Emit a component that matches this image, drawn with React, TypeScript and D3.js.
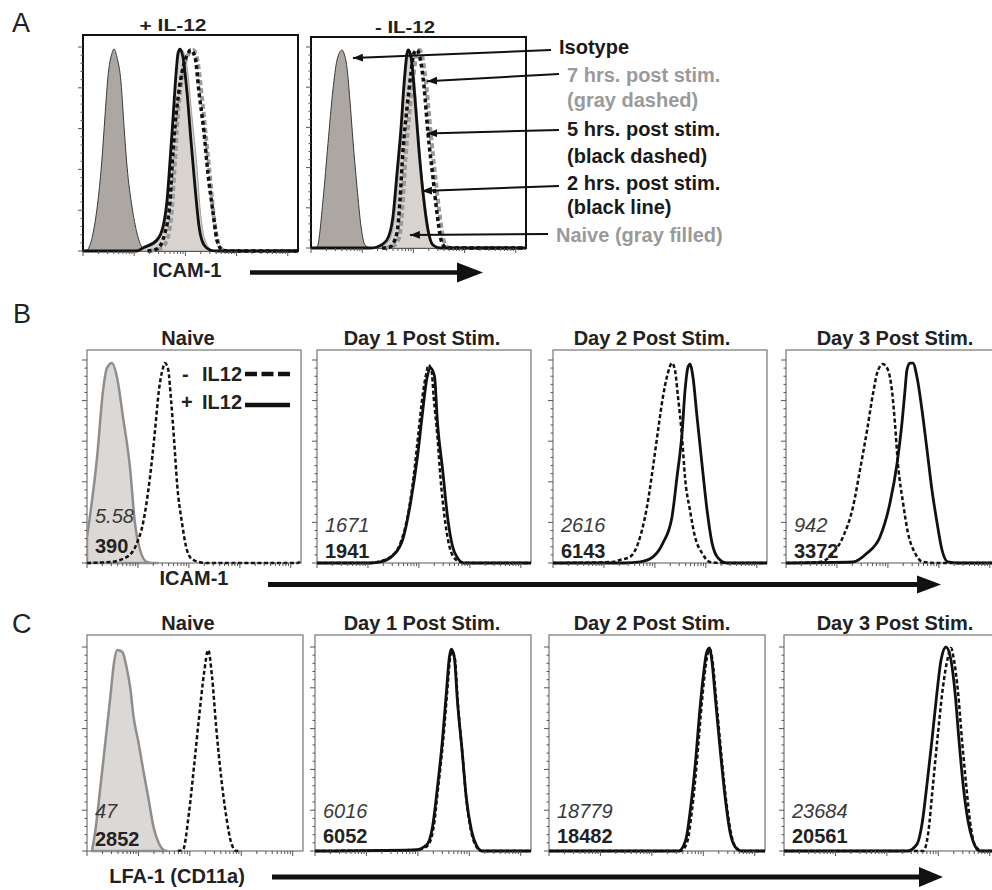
import React from 'react';
import * as d3 from 'd3';

type Pt = [number, number];

const FONT = '"Liberation Sans", Arial, Helvetica, sans-serif';

// ---------- Panel A: ICAM-1, x = % of axis, y = % of max ----------
const aPlusIsotype: Pt[] = [[0,0],[1.9,0.5],[4.7,8.8],[7,25],[8.8,44.6],[10.2,65.7],[11.6,85.3],[13.5,97],[14.4,99],[15.8,95],[17.7,82.4],[19.1,60.8],[20.5,41.2],[22.8,21.6],[25.1,8.8],[27.4,2],[29.8,0.5],[32,0]];
const aPlusNaive: Pt[] = [[24,0],[26.5,1.5],[32.6,2.9],[37.2,10.3],[39.5,25],[41.4,49.5],[42.8,74],[44.2,93.6],[46,98.5],[48.4,90.2],[50.7,65.7],[53,41.2],[54.4,21.6],[56.7,5.4],[60,0.5],[62,0]];
const aPlus2h: Pt[] = [[0,0],[25,0],[27.9,1.5],[34.4,5.4],[37.2,11.8],[39.1,25],[40.5,44.6],[41.9,65.7],[43.3,87.3],[44.2,97],[45.1,99],[46.5,95],[48.4,77.5],[50.2,54.4],[52.1,31.4],[54,11.8],[56.3,2.9],[59.1,0.5],[62,0],[100,0]];
const aPlus5h: Pt[] = [[30,0],[34.4,1],[38.1,8.8],[40.5,25],[41.9,49.5],[43.7,70.6],[46,87.3],[48.4,96],[50.2,98.5],[52.1,95],[54,77.5],[56.3,57.8],[58.1,38.2],[60.5,18.6],[62.3,5.4],[64.7,0.5],[67,0],[100,0]];
const aPlus7h: Pt[] = [[31,0],[35.8,1],[39.1,5.4],[41.4,21.6],[42.8,44.6],[44.2,67.6],[46.5,87.3],[48.8,96],[51.2,98.5],[53,94.6],[55.3,75.5],[57.2,55.9],[59.1,36.3],[60.9,16.7],[62.8,4.4],[65.1,0.5],[67,0],[100,0]];

const aMinusIsotype: Pt[] = [[0,0],[2.8,0.5],[5.6,23.9],[7.9,52],[10.2,78.6],[12.1,93.5],[14.4,98.5],[15.3,97],[16.7,90],[18.1,73.6],[19.5,53.7],[21.4,30.3],[23.3,10.4],[25.1,1.5],[27.4,0]];
const aMinusNaive: Pt[] = [[29,0],[31.5,0.5],[35.8,3],[38.6,13],[40.5,35],[42.3,58],[43.7,80],[45.1,95],[45.8,98],[47.2,94],[49,73],[50.7,48],[52.6,27],[54.9,9],[57.2,1.5],[60,0]];
const aMinus2h: Pt[] = [[0,0],[28,0],[30.7,0.5],[35.3,4],[38.1,15.4],[40,37.3],[41.9,60.2],[43.3,82.1],[44.7,97],[45.3,98.5],[46.5,95],[48.4,73.6],[50.2,48.8],[52.1,27.4],[54.4,9],[56.7,1.5],[60,0],[100,0]];
const aMinus5h: Pt[] = [[33,0],[36.7,0.5],[40,7.5],[41.4,23.9],[42.8,48.8],[44.7,70.1],[46.5,87],[47.9,97],[49.3,98.5],[50.7,94.5],[52.6,80.1],[54.4,57.2],[56.7,35.3],[58.6,17.4],[60.5,4],[62.3,0.5],[64,0],[100,0]];
const aMinus7h: Pt[] = [[34,0],[37.5,0.5],[41,5],[42.5,20],[44,45],[45.9,68],[47.7,86],[49.1,96.5],[50.5,98.5],[52,94],[53.9,78],[55.8,56],[58,34],[59.9,16],[61.8,3.5],[63.5,0.5],[65,0],[100,0]];

const aTitles = ['+ IL-12', '- IL-12'];
const aLegendLines = [
  ['Isotype'],
  ['7 hrs. post stim.', '(gray dashed)'],
  ['5 hrs. post stim.', '(black dashed)'],
  ['2 hrs. post stim.', '(black line)'],
  ['Naive (gray filled)'],
];
const aLegendGray = [false, true, false, false, true];
// arrow targets on the "- IL-12" histogram, in data units
const aLegendTargets: Pt[] = [[19.5, 94.5], [54, 83], [54, 57], [51.6, 28.4], [46, 6.5]];

// ---------- Panel B: ICAM-1 ----------
const bTitles = ['Naive', 'Day 1 Post Stim.', 'Day 2 Post Stim.', 'Day 3 Post Stim.'];
const bItalicLabels = ['5.58', '1671', '2616', '942'];
const bBoldLabels = ['390', '1941', '6143', '3372'];
const bNaiveIsotype: Pt[] = [[0,12.8],[4.7,52],[7.5,85],[9.3,96],[11.7,98.5],[14,91.6],[16.8,72],[20.1,47],[22.4,19.7],[24.8,6.4],[28,0.5],[30.8,0],[33,0]];
const bNaiveMinus: Pt[] = [[0,0],[10.7,0.5],[18.7,3],[23.4,9.9],[26.2,19.7],[29.4,42],[31.8,65.5],[33.6,85],[35.5,96],[36.4,98.5],[37.9,95.5],[39.3,80],[40.7,60.6],[42.1,39],[44.4,19.7],[46.7,6.4],[49.5,1.5],[56,0],[98.5,0],[100,1.5]];
const bDay1Minus: Pt[] = [[0,0],[25,0],[28.2,0.5],[34.3,3],[39,9.9],[42.3,22.7],[45.1,42],[47.4,64],[49.3,82],[51.2,94],[52.1,97.5],[53.5,95],[54.5,82],[56.3,62],[57.7,42],[59.6,22.7],[61.5,9.9],[63.8,3],[67.1,0.5],[71.8,0],[100,0]];
const bDay1Plus: Pt[] = [[0,0],[24.9,0],[29.6,0.5],[35.7,3.9],[40.4,12.8],[43.7,29.6],[46.9,52],[49.3,74],[51.2,90],[53.1,96],[54.9,92],[56.3,69],[58.7,46],[61,22.7],[63.4,7.9],[65.7,2.5],[68.5,0],[100,0]];
const bDay2Minus: Pt[] = [[0,0],[28,0.5],[31.3,1.5],[36,3],[40.7,12.8],[43.9,27.6],[46.7,47],[49.1,65.5],[51.4,82],[53.7,93.6],[55.6,98.5],[57,95],[58.4,82],[60.3,62],[61.7,42],[64,26],[66.4,12.8],[69.6,4.9],[73.4,0.5],[78,0],[100,0]];
const bDay2Plus: Pt[] = [[0,0],[33.6,0],[40.7,0.5],[46.7,3],[51.4,9.9],[55.6,22.7],[57.9,42],[60.3,64],[61.7,85],[63.1,96.6],[64,98],[65.4,91.6],[67.3,72],[69.6,49],[72,26],[74.3,9.9],[77.1,2.5],[81.3,0],[100,0]];
const bDay3Minus: Pt[] = [[0,0],[15.9,0.5],[22,4.9],[26.6,12.8],[31.3,27.6],[34.6,46],[37.9,65.5],[40.7,83.7],[43,95],[45.3,98],[47.7,95],[49.5,85],[50.9,69],[52.3,49],[54.7,29.6],[57,14.8],[60.3,4.9],[64,0.5],[70.6,0],[100,0]];
const bDay3Plus: Pt[] = [[0,0],[31.3,0.5],[37.9,4.9],[43.9,12.8],[48.6,29.6],[51.9,49],[54.2,69],[55.6,85],[56.5,95],[57.9,98.5],[59.3,98.5],[61.2,91.6],[63.6,75],[65.9,55.7],[68.2,36],[70.6,19.7],[72.9,6.4],[75.7,0.5],[79.9,0],[100,0]];

// ---------- Panel C: LFA-1 (CD11a) ----------
const cTitles = ['Naive', 'Day 1 Post Stim.', 'Day 2 Post Stim.', 'Day 3 Post Stim.'];
const cItalicLabels = ['47', '6016', '18779', '23684'];
const cBoldLabels = ['2852', '6052', '18482', '20561'];
const cNaiveIsotype: Pt[] = [[2.3,0],[3.7,8.8],[6.1,30.4],[8.4,52.5],[10.7,74.5],[12.6,93],[14,98.5],[16.4,97.5],[18.2,90.7],[20.1,79.4],[21.5,66.2],[23.8,53.4],[26.2,38.7],[28.5,25.5],[30.8,11.8],[33.2,3.9],[35.5,0.5],[37,0]];
const cNaiveMinus: Pt[] = [[42,0],[44.4,0.5],[47.2,18.6],[49.5,41],[51.9,65.7],[54.2,87.3],[56.1,98.5],[57.9,85.3],[59.8,60.8],[62.1,36.3],[64.5,16.7],[66.8,3.9],[69.2,0],[71,0]];
const cDay1Plus: Pt[] = [[0,0],[46.1,0.5],[51.6,2.9],[54.4,11.8],[56.7,31.4],[59,54.4],[60.8,77.5],[62.2,95],[63.1,99],[64.5,95],[65.9,74],[68.2,48],[70,26.5],[72.4,10.3],[74.7,2.9],[77.4,0],[100,0]];
const cDay1Minus: Pt[] = [[0,0],[47,0.5],[52,2.5],[54.8,11],[57,31],[59.4,55],[61.2,78],[62.6,95],[63.4,98],[64.8,94],[66.1,73],[68.3,47],[70.1,25],[72.3,9.5],[74.5,2.5],[77,0],[100,0]];
const cDay2Plus: Pt[] = [[0,0],[60,0],[63.3,5.4],[65.6,21.6],[67.9,44.6],[69.7,67.6],[71.6,87.3],[72.9,97],[74.3,99.5],[75.2,95],[77.1,74],[79.4,48],[81.7,25],[83.9,8.8],[86.2,2],[89,0],[100,0]];
const cDay2Minus: Pt[] = [[0,0],[61,0],[64,4.5],[66.2,20],[68.4,43],[70.2,66],[72,86],[73.3,96],[74.5,99],[75.6,94],[77.6,72],[79.9,46],[82.2,23],[84.4,8],[86.7,1.5],[89.5,0],[100,0]];
const cDay3Plus: Pt[] = [[0,0],[57,0],[61.6,3.4],[63.9,13.2],[66.2,32.8],[68.5,54.4],[70.8,77.5],[72.7,93.6],[75,100],[77.3,93.6],[79.2,77.5],[81,54.4],[82.9,32.8],[85.2,14.7],[87.5,4.9],[90.7,0],[100,0]];
const cDay3Minus: Pt[] = [[0,0],[64.5,0],[66.7,8.3],[69,32.8],[71.3,57.8],[73.6,80.4],[75.9,95],[77.3,99.5],[78.7,93.6],[80.6,77.5],[82.4,54.4],[84.3,32.8],[86.1,14.7],[88.4,2.9],[91.7,0],[100,0]];

// ---------- styles ----------
type Style = { fill?: string; stroke: string; sw: number; dash?: string };
const S = {
  aIso: { fill: '#aca7a3', stroke: '#3a3a3a', sw: 1 } as Style,
  aNaive: { fill: '#d8d3cf', stroke: '#a0a0a0', sw: 1 } as Style,
  aSolid: { stroke: '#111', sw: 2.8 } as Style,
  aBlackDash: { stroke: '#111', sw: 3.5, dash: '4 3' } as Style,
  aGrayDash: { stroke: '#9a9a9a', sw: 4, dash: '5 3' } as Style,
  iso: { fill: '#dcd8d5', stroke: '#8e8e8e', sw: 2.5 } as Style,
  solid: { stroke: '#111', sw: 2.8 } as Style,
  dash: { stroke: '#111', sw: 2.5, dash: '4 2.5' } as Style,
};

type Layer = { data: Pt[]; style: Style };

let clipCounter = 0;

function Hist(props: {
  left: number; width: number; boxTop: number; y100: number; bottom: number;
  layers: Layer[]; boxStroke: string; boxSW: number;
}) {
  const { left, width, boxTop, y100, bottom, layers, boxStroke, boxSW } = props;
  const x = d3.scaleLinear().domain([0, 100]).range([left, left + width]);
  const y = d3.scaleLinear().domain([0, 100]).range([bottom, y100]);
  const line = d3.line<Pt>().x(d => x(d[0])).y(d => y(d[1])).curve(d3.curveMonotoneX);
  const area = d3.area<Pt>().x(d => x(d[0])).y0(bottom).y1(d => y(d[1])).curve(d3.curveMonotoneX);
  const lg = d3.scaleLog().domain([1, Math.pow(10, 4.2)]).range([left, left + width]);
  const xt: { v: number; major: boolean }[] = [];
  for (let k = 0; k <= 4; k++) for (let m = 1; m <= 9; m++) {
    const v = m * Math.pow(10, k);
    if (v <= Math.pow(10, 4.2)) xt.push({ v, major: m === 1 });
  }
  const yt = d3.range(0, 101, 4);
  const id = React.useMemo(() => `clip${clipCounter++}`, []);
  return (
    <g>
      <defs>
        <clipPath id={id}>
          <rect x={left} y={boxTop} width={width} height={bottom - boxTop + 3} />
        </clipPath>
      </defs>
      <rect x={left} y={boxTop} width={width} height={bottom - boxTop} fill="#fff" stroke={boxStroke} strokeWidth={boxSW} />
      <g clipPath={`url(#${id})`}>
        {layers.map((l, i) =>
          l.style.fill ? (
            <path key={i} d={area(l.data) || ''} fill={l.style.fill} stroke={l.style.stroke} strokeWidth={l.style.sw} strokeLinejoin="round" />
          ) : (
            <path key={i} d={line(l.data) || ''} fill="none" stroke={l.style.stroke} strokeWidth={l.style.sw} strokeDasharray={l.style.dash} strokeLinejoin="round" />
          )
        )}
      </g>
      {yt.map(v => (
        <line key={'y' + v} x1={left - (v % 20 === 0 ? 5 : 2.5)} x2={left} y1={y(v)} y2={y(v)} stroke="#555" strokeWidth={1} />
      ))}
      {xt.map(t => (
        <line key={'x' + t.v} x1={lg(t.v)} x2={lg(t.v)} y1={bottom} y2={bottom + (t.major ? 5 : 3)} stroke="#555" strokeWidth={1} />
      ))}
    </g>
  );
}

function AxisArrow({ x1, x2, y, sw, headLen, headHalf }: { x1: number; x2: number; y: number; sw: number; headLen: number; headHalf: number }) {
  return (
    <g>
      <line x1={x1} x2={x2 - headLen + 2} y1={y} y2={y} stroke="#111" strokeWidth={sw} />
      <path d={`M${x2 - headLen},${y - headHalf} L${x2},${y} L${x2 - headLen},${y + headHalf} Z`} fill="#111" />
    </g>
  );
}

export default function App() {
  // Panel A geometry
  const aPanels = [
    { left: 83, width: 215, boxTop: 35, y100: 47, bottom: 251, title: aTitles[0], tx: 173, ty: 31,
      layers: [
        { data: aPlusIsotype, style: S.aIso }, { data: aPlusNaive, style: S.aNaive },
        { data: aPlus7h, style: S.aGrayDash }, { data: aPlus5h, style: S.aBlackDash }, { data: aPlus2h, style: S.aSolid },
      ] },
    { left: 311, width: 215, boxTop: 37, y100: 47, bottom: 248, title: aTitles[1], tx: 405, ty: 33,
      layers: [
        { data: aMinusIsotype, style: S.aIso }, { data: aMinusNaive, style: S.aNaive },
        { data: aMinus7h, style: S.aGrayDash }, { data: aMinus5h, style: S.aBlackDash }, { data: aMinus2h, style: S.aSolid },
      ] },
  ];
  const ar = aPanels[1];
  const arX = d3.scaleLinear().domain([0, 100]).range([ar.left, ar.left + ar.width]);
  const arY = d3.scaleLinear().domain([0, 100]).range([ar.bottom, ar.y100]);
  const legX = [559, 567, 567, 567, 556];
  const legBase = [54, 82, 136, 190, 242];
  const legTailY = [50, 74, 130, 186, 234];
  const legLineGap = [0, 25, 27, 24, 0];

  const titleCenters = [188, 422, 652, 895];
  const bLefts = [87, 317, 553, 786];
  const cLefts = [87, 315, 549, 784];
  const bLayers: Layer[][] = [
    [{ data: bNaiveIsotype, style: S.iso }, { data: bNaiveMinus, style: S.dash }],
    [{ data: bDay1Plus, style: S.solid }, { data: bDay1Minus, style: S.dash }],
    [{ data: bDay2Plus, style: S.solid }, { data: bDay2Minus, style: S.dash }],
    [{ data: bDay3Plus, style: S.solid }, { data: bDay3Minus, style: S.dash }],
  ];
  const cLayers: Layer[][] = [
    [{ data: cNaiveIsotype, style: S.iso }, { data: cNaiveMinus, style: S.dash }],
    [{ data: cDay1Plus, style: S.solid }, { data: cDay1Minus, style: S.dash }],
    [{ data: cDay2Plus, style: S.solid }, { data: cDay2Minus, style: S.dash }],
    [{ data: cDay3Plus, style: S.solid }, { data: cDay3Minus, style: S.dash }],
  ];
  const bItalicY = [523, 532, 532, 532];
  const bBoldY = [553, 558, 558, 558];
  const cItalicY = [818, 818, 818, 818];
  const cBoldY = [846, 843, 843, 843];

  return (
    <svg width={992} height={890} style={{ position: 'absolute', left: 0, top: 0, background: '#fff' }} fontFamily={FONT}>
      <defs>
        <marker id="ah" viewBox="0 0 10 8" refX={10} refY={4} markerWidth={10} markerHeight={8} markerUnits="userSpaceOnUse" orient="auto">
          <path d="M0,0 L10,4 L0,8 Z" fill="#111" />
        </marker>
      </defs>
      <rect width={992} height={890} fill="#fff" />

      {/* panel letters */}
      <text x={12} y={32} fontSize={27} fill="#222">A</text>
      <text x={13} y={323} fontSize={27} fill="#222">B</text>
      <text x={12} y={633} fontSize={27} fill="#222">C</text>

      {/* Panel A */}
      {aPanels.map((p, i) => (
        <g key={'a' + i}>
          <Hist left={p.left} width={p.width} boxTop={p.boxTop} y100={p.y100} bottom={p.bottom} layers={p.layers} boxStroke="#111" boxSW={2} />
          <text x={p.tx} y={p.ty} textAnchor="middle" fontSize={17} fontWeight="bold" fill="#222"
            textLength={i === 0 ? 67 : 60} lengthAdjust="spacingAndGlyphs">{p.title}</text>
        </g>
      ))}
      <text x={187} y={277} textAnchor="middle" fontSize={20} fontWeight="bold" fill="#222">ICAM-1</text>
      <AxisArrow x1={250} x2={483} y={272.5} sw={4.5} headLen={26} headHalf={10} />

      {aLegendLines.map((lines, i) => (
        <g key={'leg' + i}>
          {lines.map((t, j) => (
            <text key={j} x={legX[i]} y={legBase[i] + j * legLineGap[i]} fontSize={20} fontWeight="bold" fill={aLegendGray[i] ? '#9a9a9a' : '#1a1a1a'}>{t}</text>
          ))}
          <line x1={legX[i] - 8} y1={legTailY[i]} x2={arX(aLegendTargets[i][0])} y2={arY(aLegendTargets[i][1])} stroke="#111" strokeWidth={2} markerEnd="url(#ah)" />
        </g>
      ))}

      {/* Panel B */}
      {bLayers.map((layers, i) => (
        <g key={'b' + i}>
          <Hist left={bLefts[i]} width={214} boxTop={350} y100={360} bottom={563} layers={layers} boxStroke="#808080" boxSW={1.3} />
          <text x={titleCenters[i]} y={345} textAnchor="middle" fontSize={20} fontWeight="bold" fill="#222">{bTitles[i]}</text>
          <text x={bLefts[i] + 8} y={bItalicY[i]} fontSize={20} fontStyle="italic" fill="#3a3a3a">{bItalicLabels[i]}</text>
          <text x={bLefts[i] + 8} y={bBoldY[i]} fontSize={20} fontWeight="bold" fill="#222">{bBoldLabels[i]}</text>
        </g>
      ))}
      {/* B legend */}
      <text x={182} y={381} fontSize={20} fontWeight="bold" fill="#222">-</text>
      <text x={202} y={381} fontSize={20} fontWeight="bold" fill="#222">IL12</text>
      <text x={181} y={409} fontSize={20} fontWeight="bold" fill="#222">+</text>
      <text x={202} y={409} fontSize={20} fontWeight="bold" fill="#222">IL12</text>
      <line x1={245} x2={290} y1={374} y2={374} stroke="#111" strokeWidth={4.5} strokeDasharray="12 4.5" />
      <line x1={245} x2={290} y1={405} y2={405} stroke="#111" strokeWidth={4.5} />
      <text x={194} y={585} textAnchor="middle" fontSize={20} fontWeight="bold" fill="#222">ICAM-1</text>
      <AxisArrow x1={268} x2={941} y={584.5} sw={5} headLen={24} headHalf={9} />

      {/* Panel C */}
      {cLayers.map((layers, i) => (
        <g key={'c' + i}>
          <Hist left={cLefts[i]} width={216} boxTop={635} y100={647} bottom={851} layers={layers} boxStroke="#808080" boxSW={1.3} />
          <text x={titleCenters[i]} y={630} textAnchor="middle" fontSize={20} fontWeight="bold" fill="#222">{cTitles[i]}</text>
          <text x={cLefts[i] + 8} y={cItalicY[i]} fontSize={20} fontStyle="italic" fill="#3a3a3a">{cItalicLabels[i]}</text>
          <text x={cLefts[i] + 8} y={cBoldY[i]} fontSize={20} fontWeight="bold" fill="#222">{cBoldLabels[i]}</text>
        </g>
      ))}
      <text x={177} y={883} textAnchor="middle" fontSize={20} fontWeight="bold" fill="#222">LFA-1 (CD11a)</text>
      <AxisArrow x1={272} x2={943} y={877} sw={5} headLen={24} headHalf={10} />
    </svg>
  );
}
